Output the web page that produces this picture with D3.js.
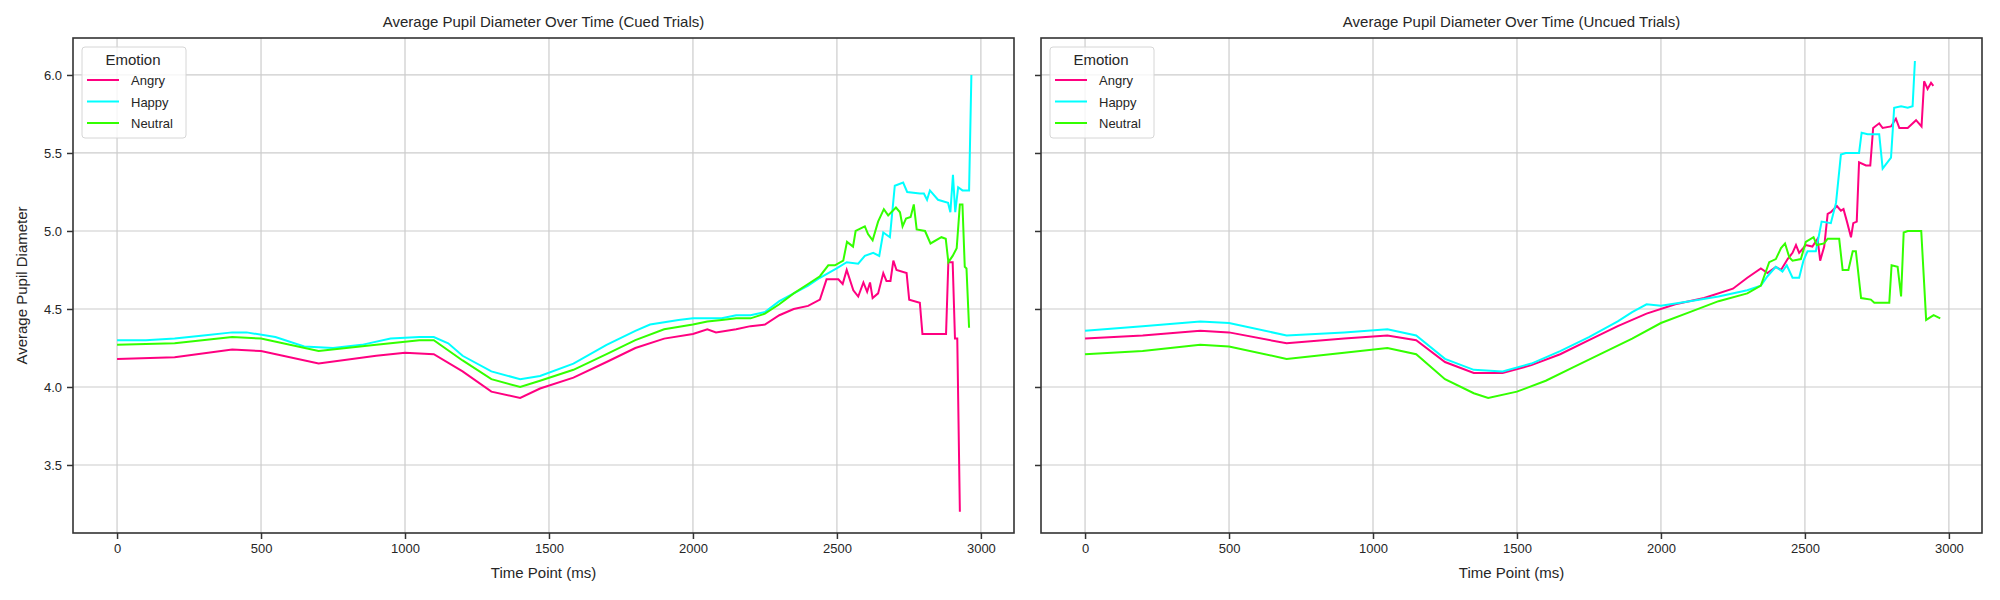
<!DOCTYPE html>
<html>
<head>
<meta charset="utf-8">
<style>
  body { margin: 0; background: #fff; }
  text { font-family: "Liberation Sans", Arial, sans-serif; fill: #262626; }
</style>
<script src="https://d3js.org/d3.v7.min.js"></script>
</head>
<body>
<svg width="2000" height="600"></svg>
<script>
// data: [time ms, value]
var cuedAngry = [[0,4.18],[200,4.19],[400,4.24],[500,4.23],[700,4.15],[900,4.20],[1000,4.22],[1100,4.21],[1200,4.10],[1300,3.97],[1400,3.93],[1469,3.99],[1585,4.06],[1700,4.16],[1800,4.25],[1900,4.31],[2000,4.34],[2050,4.37],[2080,4.35],[2150,4.37],[2200,4.39],[2250,4.40],[2300,4.46],[2350,4.50],[2400,4.52],
  [2441,4.56],[2464,4.69],[2505,4.69],[2520,4.66],[2534,4.75],[2557,4.62],[2574,4.58],[2592,4.67],[2605,4.61],[2615,4.67],[2624,4.57],[2643,4.60],[2661,4.73],[2672,4.68],[2686,4.68],[2696,4.81],[2707,4.75],[2742,4.73],[2751,4.56],[2788,4.54],[2797,4.34],[2823,4.34],[2846,4.34],[2879,4.34],[2887,4.80],[2902,4.80],[2910,4.31],[2918,4.31],[2927,3.20]];
var cuedHappy = [[0,4.30],[100,4.30],[200,4.31],[300,4.33],[400,4.35],[450,4.35],[550,4.32],[650,4.26],[750,4.25],[850,4.27],[950,4.31],[1050,4.32],[1100,4.32],[1150,4.28],[1200,4.20],[1300,4.10],[1400,4.05],[1469,4.07],[1585,4.15],[1700,4.27],[1800,4.36],[1851,4.40],[1950,4.43],[2000,4.44],[2100,4.44],[2150,4.46],[2200,4.46],[2250,4.48],[2300,4.55],[2350,4.60],[2400,4.65],
  [2441,4.70],[2499,4.76],[2534,4.80],[2574,4.79],[2597,4.84],[2626,4.86],[2647,4.84],[2661,4.99],[2684,4.96],[2701,5.29],[2730,5.31],[2744,5.25],[2788,5.24],[2802,5.24],[2813,5.20],[2823,5.26],[2851,5.20],[2886,5.18],[2894,5.12],[2903,5.36],[2911,5.12],[2921,5.28],[2936,5.26],[2959,5.26],[2967,6.00]];
var cuedNeutral = [[0,4.27],[200,4.28],[400,4.32],[500,4.31],[700,4.23],[900,4.27],[1050,4.30],[1100,4.30],[1200,4.17],[1300,4.05],[1400,4.00],[1469,4.04],[1585,4.11],[1700,4.21],[1800,4.30],[1900,4.37],[2000,4.40],[2050,4.42],[2100,4.43],[2150,4.44],[2200,4.44],[2250,4.47],[2300,4.53],[2350,4.60],[2400,4.66],
  [2441,4.71],[2470,4.78],[2493,4.78],[2522,4.81],[2535,4.93],[2556,4.90],[2565,5.00],[2597,5.03],[2608,4.98],[2624,4.94],[2643,5.06],[2663,5.14],[2678,5.10],[2705,5.15],[2719,5.12],[2728,5.03],[2740,5.08],[2756,5.09],[2767,5.17],[2777,5.01],[2806,5.00],[2825,4.92],[2863,4.96],[2878,4.95],[2887,4.80],[2902,4.84],[2916,4.89],[2927,5.17],[2936,5.17],[2944,4.77],[2950,4.76],[2959,4.38]];

var uncuedAngry = [[0,4.31],[200,4.33],[400,4.36],[500,4.35],[700,4.28],[900,4.31],[1050,4.33],[1150,4.30],[1250,4.16],[1350,4.09],[1450,4.09],[1550,4.14],[1650,4.21],[1750,4.30],[1850,4.39],[1950,4.47],[2050,4.53],[2150,4.57],[2250,4.63],[2300,4.70],
  [2347,4.76],[2370,4.73],[2399,4.77],[2417,4.75],[2440,4.82],[2457,4.86],[2469,4.91],[2480,4.86],[2503,4.91],[2526,4.90],[2544,4.95],[2553,4.81],[2567,4.90],[2579,5.11],[2590,5.12],[2611,5.16],[2625,5.13],[2634,5.14],[2646,5.06],[2660,4.96],[2668,5.05],[2680,5.06],[2688,5.44],[2712,5.42],[2727,5.42],[2737,5.66],[2758,5.69],[2770,5.66],[2799,5.67],[2816,5.72],[2828,5.66],[2857,5.66],[2886,5.71],[2905,5.67],[2914,5.96],[2926,5.91],[2938,5.95],[2946,5.93]];
var uncuedHappy = [[0,4.36],[200,4.39],[400,4.42],[500,4.41],[700,4.33],[900,4.35],[1050,4.37],[1150,4.33],[1250,4.18],[1350,4.11],[1450,4.10],[1550,4.15],[1650,4.23],[1750,4.32],[1850,4.42],[1900,4.48],[1950,4.53],[2000,4.52],[2100,4.55],[2200,4.58],[2300,4.62],
  [2347,4.65],[2370,4.71],[2399,4.77],[2422,4.74],[2437,4.78],[2457,4.70],[2480,4.70],[2495,4.81],[2509,4.87],[2538,4.87],[2558,5.06],[2590,5.05],[2608,5.18],[2625,5.49],[2642,5.50],[2688,5.50],[2697,5.63],[2718,5.62],[2758,5.62],[2770,5.40],[2799,5.47],[2810,5.79],[2834,5.80],[2857,5.79],[2874,5.80],[2882,6.09]];
var uncuedNeutral = [[0,4.21],[200,4.23],[400,4.27],[500,4.26],[700,4.18],[900,4.22],[1050,4.25],[1150,4.21],[1250,4.05],[1350,3.96],[1400,3.93],[1500,3.97],[1600,4.04],[1700,4.13],[1800,4.22],[1900,4.31],[2000,4.41],[2100,4.48],[2200,4.55],[2300,4.60],
  [2347,4.65],[2376,4.80],[2399,4.82],[2417,4.89],[2431,4.92],[2446,4.83],[2457,4.81],[2486,4.82],[2503,4.93],[2530,4.96],[2541,4.91],[2567,4.92],[2579,4.95],[2619,4.95],[2631,4.75],[2651,4.75],[2666,4.87],[2677,4.87],[2695,4.57],[2729,4.56],[2741,4.54],[2793,4.54],[2801,4.78],[2822,4.77],[2834,4.58],[2843,4.99],[2857,5.00],[2904,5.00],[2921,4.43],[2947,4.46],[2970,4.44]];

var emotions = ["Angry", "Happy", "Neutral"];
var colors = ["#ff0080", "#00ffff", "#33ff00"];
var xTicks = [0, 500, 1000, 1500, 2000, 2500, 3000];
var yTicks = [3.5, 4.0, 4.5, 5.0, 5.5, 6.0];

var panels = [
  {title: "Average Pupil Diameter Over Time (Cued Trials)", left: 73, series: [cuedAngry, cuedHappy, cuedNeutral], ylab: true},
  {title: "Average Pupil Diameter Over Time (Uncued Trials)", left: 1041, series: [uncuedAngry, uncuedHappy, uncuedNeutral], ylab: false}
];

var svg = d3.select("svg");
var plotTop = 38, plotBottom = 533, w = 941;

var y = d3.scaleLinear().domain([3.064, 6.237]).range([plotBottom, plotTop]);

panels.forEach(function(p) {
  var x = d3.scaleLinear().domain([-153, 3115]).range([p.left, p.left + w]);
  var g = svg.append("g");

  // grid
  g.selectAll(".gx").data(xTicks).enter().append("line")
    .attr("x1", d => x(d)).attr("x2", d => x(d)).attr("y1", plotTop).attr("y2", plotBottom)
    .attr("stroke", "#cccccc").attr("stroke-width", 1.2);
  g.selectAll(".gy").data(yTicks).enter().append("line")
    .attr("y1", d => y(d)).attr("y2", d => y(d)).attr("x1", p.left).attr("x2", p.left + w)
    .attr("stroke", "#cccccc").attr("stroke-width", 1.2);

  var line = d3.line().x(d => x(d[0])).y(d => y(d[1]));
  p.series.forEach(function(s, i) {
    g.append("path").datum(s).attr("d", line)
      .attr("fill", "none").attr("stroke", colors[i]).attr("stroke-width", 2);
  });

  // axes
  var xa = g.append("g").attr("transform", "translate(0," + plotBottom + ")")
    .call(d3.axisBottom(x).tickValues(xTicks).tickSize(6).tickPadding(5).tickFormat(d3.format("d")));
  var ya = g.append("g").attr("transform", "translate(" + p.left + ",0)")
    .call(d3.axisLeft(y).tickValues(yTicks).tickSize(6).tickPadding(5).tickFormat(p.ylab ? d3.format(".1f") : ""));
  [xa, ya].forEach(function(a) {
    a.select(".domain").remove();
    a.selectAll("line").attr("stroke", "#333").attr("stroke-width", 1.5);
    a.selectAll("text").style("font-size", "13px").attr("fill", "#262626")
      .style("font-family", "'Liberation Sans', Arial, sans-serif");
  });

  g.append("rect").attr("x", p.left).attr("y", plotTop).attr("width", w).attr("height", plotBottom - plotTop)
    .attr("fill", "none").attr("stroke", "#333").attr("stroke-width", 1.6);

  g.append("text").attr("x", p.left + w / 2).attr("y", 27).attr("text-anchor", "middle")
    .style("font-size", "15px").text(p.title);
  g.append("text").attr("x", p.left + w / 2).attr("y", 578).attr("text-anchor", "middle")
    .style("font-size", "15px").text("Time Point (ms)");
  if (p.ylab) {
    g.append("text").attr("transform", "translate(27," + (plotTop + plotBottom) / 2 + ") rotate(-90)")
      .attr("text-anchor", "middle").style("font-size", "15px").text("Average Pupil Diameter");
  }

  // legend
  var lx = p.left + 9, ly = plotTop + 9;
  var lg = g.append("g");
  lg.append("rect").attr("x", lx).attr("y", ly).attr("width", 104).attr("height", 91).attr("rx", 3)
    .attr("fill", "#fff").attr("fill-opacity", 0.8).attr("stroke", "#d6d6d6");
  lg.append("text").attr("x", lx + 51).attr("y", ly + 18).attr("text-anchor", "middle")
    .style("font-size", "15px").text("Emotion");
  emotions.forEach(function(e, i) {
    var yy = ly + 33 + i * 21.5;
    lg.append("line").attr("x1", lx + 5).attr("x2", lx + 37).attr("y1", yy).attr("y2", yy)
      .attr("stroke", colors[i]).attr("stroke-width", 2);
    lg.append("text").attr("x", lx + 49).attr("y", yy + 5).style("font-size", "13px").text(e);
  });
});
</script>
</body>
</html>
